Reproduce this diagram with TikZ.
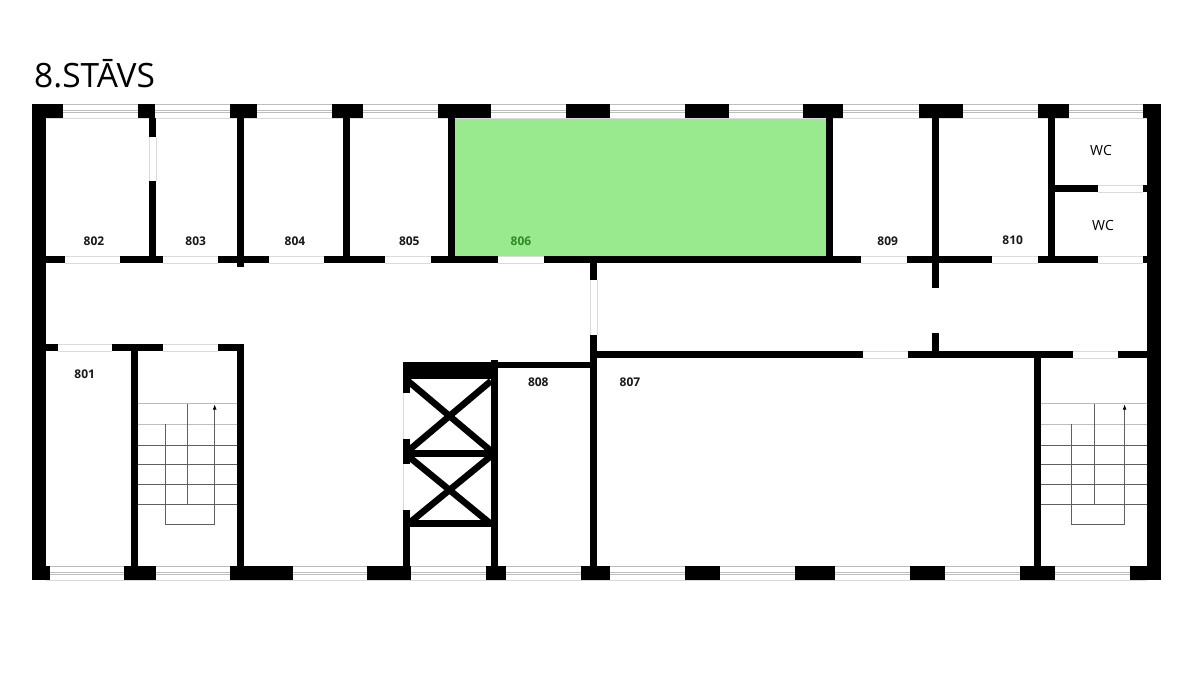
\documentclass[tikz,border=0pt]{standalone}
\usepackage{fontspec}
\usetikzlibrary{arrows.meta}
\setmainfont{Open Sans}
\definecolor{roomgreen}{HTML}{99E98E}
\definecolor{labelgreen}{HTML}{2F8A24}
\definecolor{glass}{HTML}{BDBDBD}
\definecolor{doorline}{HTML}{DADADA}
\definecolor{stairline}{HTML}{606060}
\tikzset{
  wall/.style={fill=black},
  glassline/.style={draw=glass,line width=0.8pt},
  doorside/.style={draw=doorline,line width=0.8pt},
  stair/.style={draw=stairline,line width=0.7pt},
  brace/.style={draw=black,line width=6.5pt},
  roomlabel/.style={font=\fontsize{12}{14}\selectfont\bfseries,text=black!90,inner sep=0pt},
  wclabel/.style={font=\fontsize{14}{16}\selectfont,inner sep=0pt}
}
\begin{document}
\begin{tikzpicture}[x=1pt,y=-1pt]
  \useasboundingbox (0,0) rectangle (1200,675);
  \fill[white] (0,0) rectangle (1200,675);
  \fill[roomgreen] (455,118) rectangle (826,256);
  % windows
  \foreach \ya in {104,566} {
    \draw[glassline] (46,\ya) -- (1147,\ya);
    \draw[glassline] (46,\ya+6.8) -- (1147,\ya+6.8);
    \draw[glassline] (46,\ya+8.4) -- (1147,\ya+8.4);
    \draw[doorside] (46,\ya+14) -- (1147,\ya+14);
  }
  % doors
  \foreach \xa/\xb in {65/120,163/218,269/324,385/431,498/544,861/907,992/1038,1098/1143} {
    \draw[doorside] (\xa,256) -- (\xb,256);
    \draw[doorside] (\xa,263) -- (\xb,263);
  }
  \foreach \xa/\xb in {58/112,163/218} {
    \draw[doorside] (\xa,344) -- (\xb,344);
    \draw[doorside] (\xa,351) -- (\xb,351);
  }
  \foreach \xa/\xb in {863/908,1073/1118} {
    \draw[doorside] (\xa,351) -- (\xb,351);
    \draw[doorside] (\xa,358) -- (\xb,358);
  }
  \draw[doorside] (1098,185) -- (1143,185);
  \draw[doorside] (1098,192) -- (1143,192);
  \draw[doorside] (590,280) -- (590,335);
  \draw[doorside] (597,280) -- (597,335);
  \draw[doorside] (149,137) -- (149,181);
  \draw[doorside] (156,137) -- (156,181);
  \draw[doorside] (403,393) -- (403,439);
  \draw[doorside] (403,464) -- (403,510);
  % outer walls
  \fill[wall] (32,104) rectangle (46,580);
  \fill[wall] (1147,104) rectangle (1161,580);
  \foreach \xa/\xb in {32/63,138/155.3,230.3/257.3,332/363.3,437.7/491,565.7/610,685/728.7,803.3/843.3,918.7/963,1037.7/1068.7,1143.3/1161}
    \fill[wall] (\xa,104) rectangle (\xb,118);
  \foreach \xa/\xb in {32/50,124.3/155.7,230.3/292.7,367/411,485.7/506.3,581/610,685/720,795/834.7,909.5/945,1020/1055.4,1130/1161}
    \fill[wall] (\xa,566) rectangle (\xb,580);
  % corridor walls
  \foreach \xa/\xb in {46/65,120/163.3,218.3/269,324/385,431/498.3,543.7/861,906.7/992.3,1037.7/1098.3,1143.3/1147}
    \fill[wall] (\xa,255.7) rectangle (\xb,263.2);
  \foreach \xa/\xb in {46/57.7,112.3/163.3,218.3/243.7}
    \fill[wall] (\xa,344) rectangle (\xb,351);
  \foreach \xa/\xb in {590/863,908.3/1073,1118.3/1147}
    \fill[wall] (\xa,351) rectangle (\xb,358.3);
  % partitions
  \foreach \xa/\ya/\yb in {148.7/118/137.3,148.7/181.3/257,236.7/118/267,342.7/118/257,448.3/118/257,826/118/257,931.7/118/288,931.7/333/352,1048.3/118/257,589.7/263/280.3,589.7/335.3/566,130.7/351/566,236.7/351/566,1034/358/566}
    \fill[wall] (\xa,\ya) rectangle (\xa+7,\yb);
  \fill[wall] (1055,185) rectangle (1098.3,192.3);
  \fill[wall] (1143.3,185) rectangle (1147,192.3);
  % shaft
  \fill[wall] (402.7,361.7) rectangle (498.3,379);
  \fill[wall] (491,360.3) rectangle (498.3,566);
  \fill[wall] (498,361.7) rectangle (590,368.3);
  \foreach \ya/\yb in {379/393.3,439.3/464,510/566}
    \fill[wall] (402.7,\ya) rectangle (409.5,\yb);
  \fill[wall] (409,450) rectangle (491,457);
  \fill[wall] (409,520.3) rectangle (491,527.3);
  \foreach \ya/\yb in {379/451,454/524} {
    \draw[brace] (408,\ya+2) -- (491,\yb);
    \draw[brace] (491,\ya+2) -- (408,\yb);
  }
  % stairs
  \foreach \xa/\xb/\xc/\xd/\xe in {138/236.7/165.3/187.3/214.7,1041/1147/1070.9/1094.7/1124.6} {
    \draw[glassline] (\xa,403.7) -- (\xb,403.7);
    \draw[glassline] (\xa,424.2) -- (\xb,424.2);
    \foreach \ya in {445.3,464.3,484.3,504.3}
      \draw[stair] (\xa,\ya) -- (\xb,\ya);
    \draw[stair] (\xd,403.7) -- (\xd,504.3);
    \draw[stair,-{Latex[black,length=5pt,width=3.8pt]}] (\xc,424.2) -- (\xc,524.3) -- (\xe,524.3) -- (\xe,404.5);
  }
  % labels
  \node[anchor=base west,inner sep=0pt,font=\fontsize{33.5}{38}\selectfont] (title) at (34,87.5) {8.STĀVS};
  \node[roomlabel] (r801) at (84.7,374.5) {801};
  \node[roomlabel] (r802) at (94,241) {802};
  \node[roomlabel] (r803) at (195.7,241) {803};
  \node[roomlabel] (r804) at (295,241) {804};
  \node[roomlabel] (r805) at (409.3,241) {805};
  \node[roomlabel,text=labelgreen] (r806) at (521,241) {806};
  \node[roomlabel] (r807) at (630,382) {807};
  \node[roomlabel] (r808) at (538.3,382) {808};
  \node[roomlabel] (r809) at (887.7,241) {809};
  \node[roomlabel] (r810) at (1012.7,240) {810};
  \node[wclabel] (wca) at (1101,150) {WC};
  \node[wclabel] (wcb) at (1103,225) {WC};
\end{tikzpicture}
\end{document}
